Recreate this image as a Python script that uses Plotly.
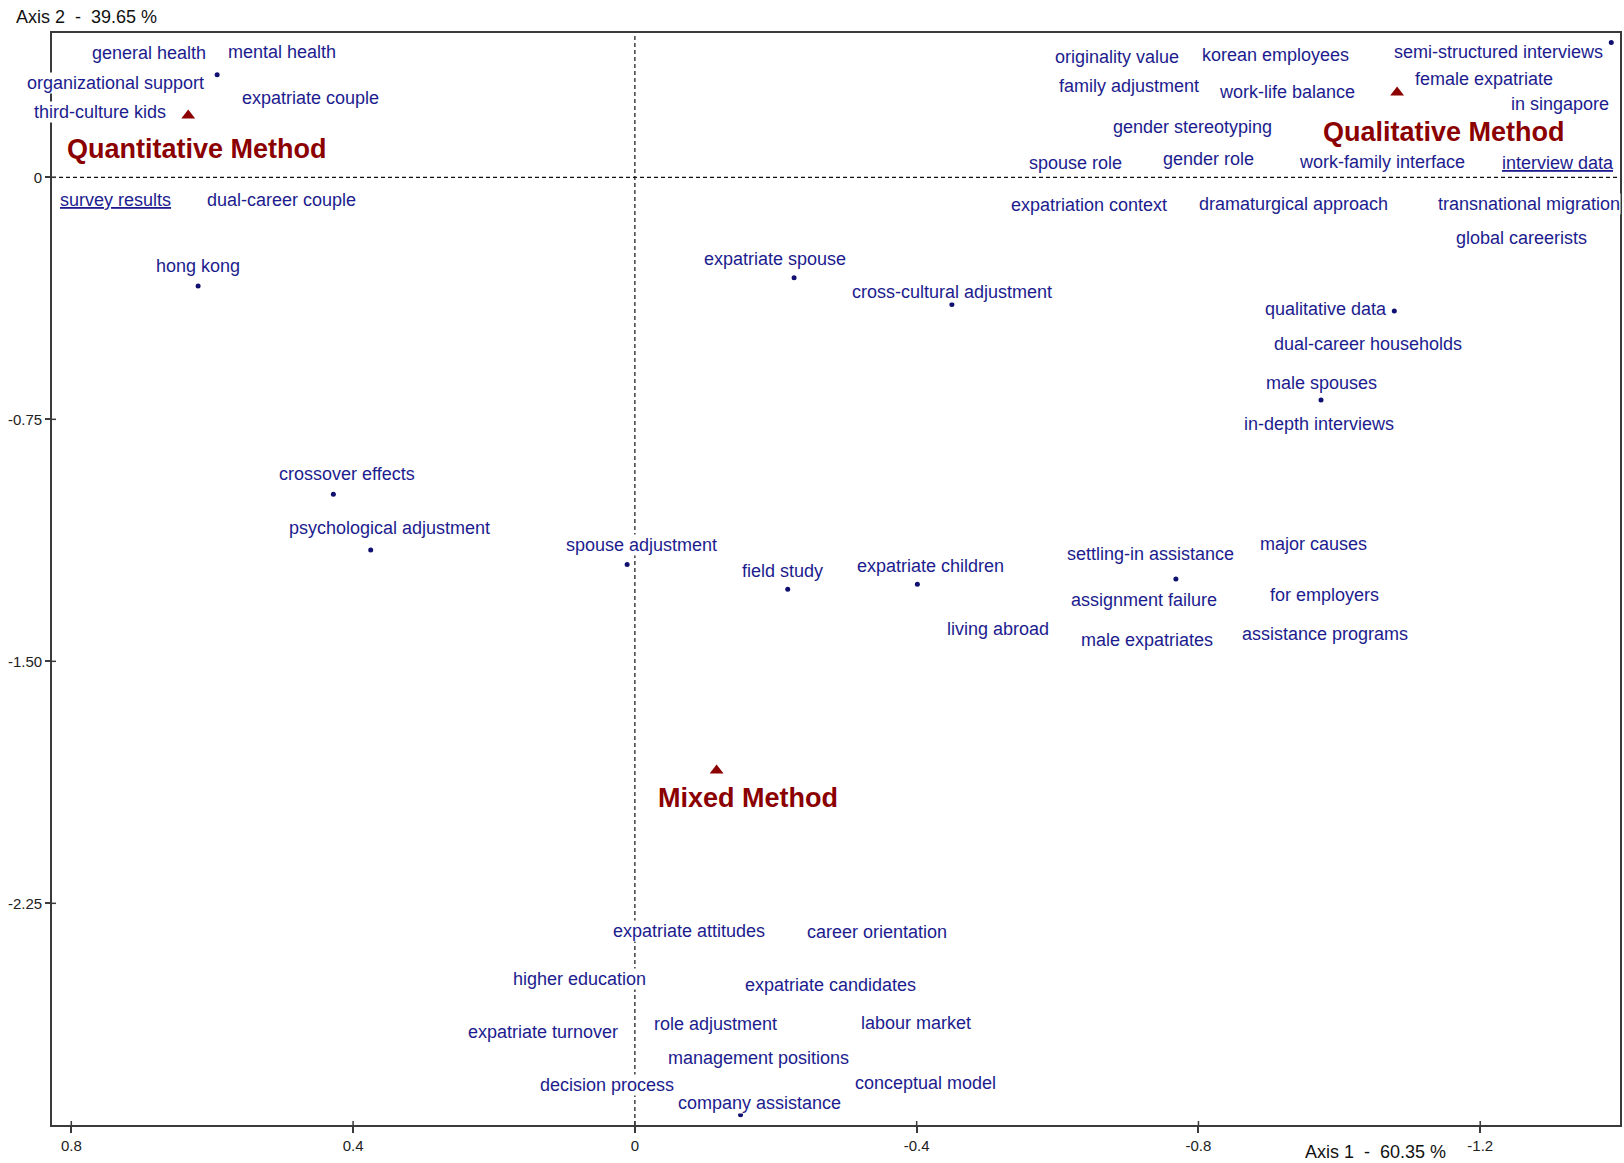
import plotly.graph_objects as go

# Term labels with their placement on the factorial map (Axis 1, Axis 2)
term_labels = [
    "general health", "mental health", "organizational support", "expatriate couple",
    "third-culture kids", "survey results", "dual-career couple", "hong kong",
    "crossover effects", "psychological adjustment", "spouse adjustment", "field study",
    "expatriate children", "living abroad", "settling-in assistance", "assignment failure",
    "male expatriates", "major causes", "for employers", "assistance programs",
    "expatriate spouse", "cross-cultural adjustment", "qualitative data",
    "dual-career households", "male spouses", "in-depth interviews",
    "expatriation context", "dramaturgical approach", "transnational migration",
    "global careerists", "originality value", "korean employees",
    "semi-structured interviews", "family adjustment", "work-life balance",
    "female expatriate", "in singapore", "gender stereotyping", "spouse role",
    "gender role", "work-family interface", "interview data", "expatriate attitudes",
    "career orientation", "higher education", "expatriate candidates",
    "expatriate turnover", "role adjustment", "labour market", "management positions",
    "decision process", "conceptual model", "company assistance",
]
term_axis1 = [
    0.690, 0.501, 0.737, 0.461,
    0.759, 0.737, 0.501, 0.620,
    0.409, 0.348, -0.009, -0.209,
    -0.419, -0.516, -0.732, -0.723,
    -0.727, -0.963, -0.979, -0.979,
    -0.199, -0.450, -0.981,
    -1.040, -0.974, -0.971,
    -0.645, -0.935, -1.269,
    -1.258, -0.685, -0.910,
    -1.226, -0.701, -0.926,
    -1.206, -1.313, -0.791, -0.626,
    -0.814, -1.061, -1.311, -0.077,
    -0.344, 0.079, -0.277,
    0.130, -0.114, -0.399, -0.176,
    0.039, -0.413, -0.177,
]
term_axis2 = [
    0.385, 0.388, 0.292, 0.247,
    0.202, -0.071, -0.071, -0.276,
    -0.918, -1.088, -1.139, -1.219,
    -1.206, -1.399, -1.168, -1.309,
    -1.434, -1.136, -1.293, -1.415,
    -0.253, -0.356, -0.407,
    -0.517, -0.638, -0.764,
    -0.087, -0.083, -0.083,
    -0.189, 0.372, 0.379,
    0.388, 0.282, 0.266,
    0.305, 0.228, 0.157, 0.045,
    0.058, 0.048, 0.045, -2.336,
    -2.339, -2.486, -2.502,
    -2.650, -2.624, -2.621, -2.730,
    -2.814, -2.807, -2.868,
]
underlined_terms = {"survey results", "interview data"}

# Term points that remain visible beside their labels
point_axis1 = [0.593, 0.620, -1.386, -0.226, -0.450, -1.078, -0.974,
               0.428, 0.375, 0.011, -0.217, -0.401, -0.768, -0.150]
point_axis2 = [0.318, -0.337, 0.418, -0.311, -0.394, -0.414, -0.690,
               -0.982, -1.155, -1.200, -1.277, -1.261, -1.245, -2.905]

# Method categories: point position and label position
method_names = ["Quantitative Method", "Qualitative Method", "Mixed Method"]
method_axis1 = [0.634, -1.082, -0.116]
method_axis2 = [0.192, 0.263, -1.838]
method_label_axis1 = [0.621, -1.148, -0.161]
method_label_axis2 = [0.087, 0.141, -1.925]

# Axis ticks and inertia shares
x_ticks = [0.8, 0.4, 0, -0.4, -0.8, -1.2]
x_tick_text = ["0.8", "0.4", "0", "-0.4", "-0.8", "-1.2"]
y_ticks = [0, -0.75, -1.5, -2.25]
y_tick_text = ["0", "-0.75", "-1.50", "-2.25"]
axis1_share = "60.35 %"
axis2_share = "39.65 %"

FONT = "Liberation Sans, Arial, sans-serif"
TERM_COLOR = "#1c1c8e"
METHOD_COLOR = "#8b0000"
FRAME_COLOR = "#3a3a3a"

fig = go.Figure()

fig.add_trace(go.Scatter(
    x=point_axis1, y=point_axis2, mode="markers",
    marker=dict(symbol="circle", size=5, color="#101070"),
    hoverinfo="skip", showlegend=False,
))
fig.add_trace(go.Scatter(
    x=method_axis1, y=method_axis2, mode="markers",
    marker=dict(symbol="triangle-up", size=12, color=METHOD_COLOR),
    text=method_names, hoverinfo="text", showlegend=False,
))

annotations = []
for label, ax1, ax2 in zip(term_labels, term_axis1, term_axis2):
    text = f"<u>{label}</u>" if label in underlined_terms else label
    annotations.append(dict(
        x=ax1, y=ax2, xref="x", yref="y", text=text, showarrow=False,
        font=dict(family=FONT, size=18, color=TERM_COLOR),
        bgcolor="white", borderpad=0, xanchor="center", yanchor="middle",
    ))
for name, ax1, ax2 in zip(method_names, method_label_axis1, method_label_axis2):
    annotations.append(dict(
        x=ax1, y=ax2, xref="x", yref="y", text=f"<b>{name}</b>", showarrow=False,
        font=dict(family=FONT, size=27, color=METHOD_COLOR),
        bgcolor="white", borderpad=2, xanchor="center", yanchor="middle",
    ))

# Axis titles
nb = "\u00a0"
annotations.append(dict(
    xref="paper", yref="paper", x=0, y=1, xshift=-38, yshift=16,
    xanchor="left", yanchor="middle", showarrow=False,
    text=f"Axis 2{nb}{nb}-{nb}{nb}{axis2_share}",
    font=dict(family=FONT, size=18, color="#111111"),
))
annotations.append(dict(
    xref="paper", yref="paper", x=(1377 - 52) / 1570, y=0, yshift=-27,
    xanchor="center", yanchor="middle", showarrow=False,
    text=f"Axis 1{nb}{nb}-{nb}{nb}{axis1_share}",
    font=dict(family=FONT, size=18, color="#111111"),
))

shapes = [
    # dashed origin lines
    dict(type="line", xref="x", yref="paper", x0=0, x1=0, y0=0, y1=1,
         line=dict(color="#111111", width=1.2, dash="4px,3px"), layer="below"),
    dict(type="line", xref="paper", yref="y", x0=0, x1=1, y0=0, y1=0,
         line=dict(color="#111111", width=1.2, dash="4px,3px"), layer="below"),
]
# inner half of the crossing tick marks
for v in x_ticks:
    shapes.append(dict(type="line", xref="x", yref="paper", ysizemode="pixel",
                       yanchor=0, x0=v, x1=v, y0=0, y1=4,
                       line=dict(color=FRAME_COLOR, width=1.5)))
for v in y_ticks:
    shapes.append(dict(type="line", xref="paper", yref="y", xsizemode="pixel",
                       xanchor=0, x0=0, x1=4, y0=v, y1=v,
                       line=dict(color=FRAME_COLOR, width=1.5)))

fig.update_layout(
    width=1624, height=1163,
    margin=dict(l=52, r=2, t=33, b=38),
    paper_bgcolor="white", plot_bgcolor="white",
    font=dict(family=FONT, size=14, color="#222222"),
    annotations=annotations, shapes=shapes,
    xaxis=dict(
        range=[0.8274, -1.3984], tickvals=x_ticks, ticktext=x_tick_text,
        ticks="outside", ticklen=6, tickwidth=1.5, tickcolor=FRAME_COLOR,
        showgrid=False, zeroline=False, showline=True, linecolor=FRAME_COLOR,
        linewidth=1.8, mirror=True, tickfont=dict(size=15, color="#222222"),
        fixedrange=True,
    ),
    yaxis=dict(
        range=[-2.937, 0.4473], tickvals=y_ticks, ticktext=y_tick_text,
        ticks="outside", ticklen=5, tickwidth=1.5, tickcolor=FRAME_COLOR,
        showgrid=False, zeroline=False, showline=True, linecolor=FRAME_COLOR,
        linewidth=1.8, mirror=True, tickfont=dict(size=15, color="#222222"),
        fixedrange=True,
    ),
)

fig.write_html("out.html")
